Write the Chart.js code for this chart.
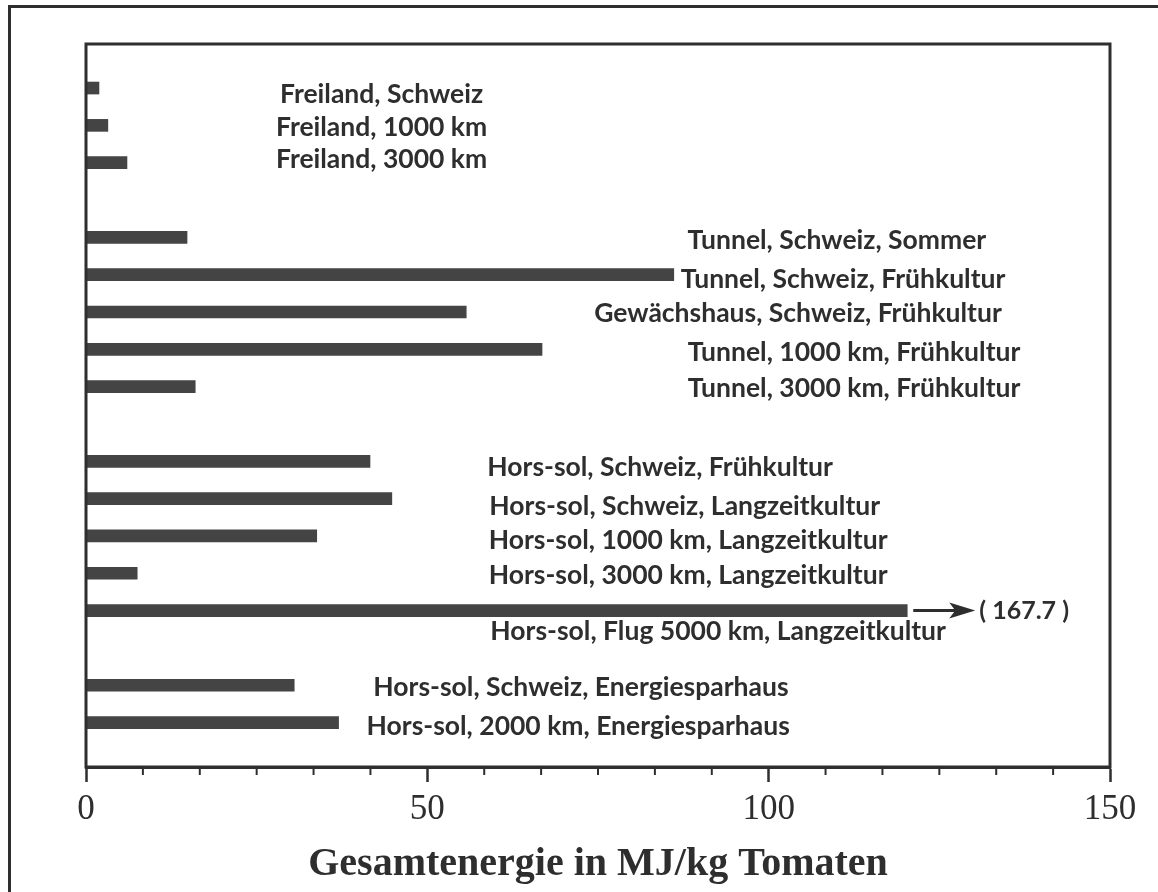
<!DOCTYPE html>
<html>
<head>
<meta charset="utf-8">
<script src="https://cdn.jsdelivr.net/npm/chart.js@4.4.1/dist/chart.umd.min.js"></script>
<style>
  html, body { margin: 0; padding: 0; background: #fff; }
  #wrap { width: 1158px; height: 892px; }
</style>
</head>
<body>
<div id="wrap"><canvas id="energyChart"></canvas></div>
<script>
// Rows from top to bottom, "" = empty row between the groups
const categories = [
    "Freiland, Schweiz", "Freiland, 1000 km", "Freiland, 3000 km",
    "",
    "Tunnel, Schweiz, Sommer", "Tunnel, Schweiz, Frühkultur", "Gewächshaus, Schweiz, Frühkultur",
    "Tunnel, 1000 km, Frühkultur", "Tunnel, 3000 km, Frühkultur",
    "",
    "Hors-sol, Schweiz, Frühkultur", "Hors-sol, Schweiz, Langzeitkultur", "Hors-sol, 1000 km, Langzeitkultur",
    "Hors-sol, 3000 km, Langzeitkultur", "Hors-sol, Flug 5000 km, Langzeitkultur",
    "",
    "Hors-sol, Schweiz, Energiesparhaus", "Hors-sol, 2000 km, Energiesparhaus"
];

// Gesamtenergie in MJ/kg Tomaten (bar length as drawn, the flight bar is cut off)
const energy = [
    1.9, 3.2, 6.0,
    null,
    14.8, 86.1, 55.7, 66.8, 16.0,
    null,
    41.6, 44.8, 33.8, 7.5, 120.3,
    null,
    30.5, 37.0
];

// real value of the cut-off bar, written after the arrow
const cutOffNotes = [
    null, null, null, null, null, null, null, null, null, null,
    null, null, null, null, "( 167.7 )", null, null, null
];

const xTicks = [0, 50, 100, 150];
const xTitle = "Gesamtenergie in MJ/kg Tomaten";

// where each row label sits (centre, in axis units) and its nudge in px
const labelCenter = [43.3, 43.3, 43.3, null, 110.0, 110.9, 104.3, 112.5, 112.5, null,
                     84.1, 87.7, 88.2, 88.2, 92.6, null, 72.5, 72.1];
const labelShift = [6, 2, -3, 0, 3, 5, 1.5, 3, 1.5, 0, 6.5, 8, 4, 2, 21, 0, 2, 3.5];

const ink = "#2e2e2e";
const barInk = "#444";

// paper border + plot frame
const framePlugin = {
    id: "frame",
    beforeDraw(chart) {
        const c = chart.ctx;
        c.save();
        c.fillStyle = "#fff";
        c.fillRect(0, 0, chart.width, chart.height);
        c.strokeStyle = ink;
        c.lineWidth = 3;
        c.beginPath();
        c.moveTo(9.5, chart.height + 5);
        c.lineTo(9.5, 6.5);
        c.lineTo(chart.width + 5, 6.5);
        c.stroke();
        c.restore();
    },
    afterDraw(chart) {
        const a = chart.chartArea;
        const c = chart.ctx;
        c.save();
        c.strokeStyle = ink;
        c.lineWidth = 3;
        c.strokeRect(a.left, a.top, a.right - a.left, a.bottom - a.top);
        // small ticks between the labelled ones
        const x = chart.scales.x;
        c.lineWidth = 2;
        for (let k = 1; k < 18; k++) {
            if (k % 6 === 0) continue;
            const px = x.getPixelForValue(k * 25 / 3);
            c.beginPath();
            c.moveTo(px, a.bottom);
            c.lineTo(px, a.bottom + 8);
            c.stroke();
        }
        c.restore();
    }
};

// row labels, arrow and note
const rowLabelPlugin = {
    id: "rowLabels",
    afterDatasetsDraw(chart) {
        const c = chart.ctx;
        const x = chart.scales.x;
        const y = chart.scales.y;
        c.save();
        c.fillStyle = ink;
        c.textBaseline = "middle";
        c.textAlign = "center";
        c.font = "bold 26.5px Lato";
        categories.forEach((name, i) => {
            if (!name) return;
            c.fillText(name, x.getPixelForValue(labelCenter[i]), y.getPixelForValue(i) + labelShift[i]);
        });
        categories.forEach((name, i) => {
            if (!cutOffNotes[i]) return;
            const py = y.getPixelForValue(i);
            const x0 = x.getPixelForValue(energy[i]) + 6;
            c.strokeStyle = ink;
            c.lineWidth = 3;
            c.beginPath();
            c.moveTo(x0, py);
            c.lineTo(x0 + 42, py);
            c.stroke();
            c.beginPath();
            c.moveTo(x0 + 62, py);
            c.lineTo(x0 + 36, py - 8);
            c.lineTo(x0 + 42, py);
            c.lineTo(x0 + 36, py + 8);
            c.closePath();
            c.fill();
            c.textAlign = "left";
            c.font = "bold 25px Lato";
            c.fillText(cutOffNotes[i], x0 + 66, py);
        });
        c.restore();
    }
};

const points = [];
energy.forEach((v, i) => {
    if (v !== null) points.push({ x: v, y: i });
});

new Chart(document.getElementById("energyChart"), {
    type: "bar",
    data: {
        datasets: [{
            data: points,
            backgroundColor: barInk,
            borderWidth: 0,
            barThickness: 12
        }]
    },
    options: {
        indexAxis: "y",
        responsive: true,
        maintainAspectRatio: false,
        animation: false,
        layout: { padding: { left: 86, top: 44, right: 48, bottom: 3 } },
        plugins: { legend: { display: false }, tooltip: { enabled: false } },
        scales: {
            y: {
                type: "linear",
                display: false,
                reverse: true,
                offset: false,
                min: -1.18,
                max: 18.19
            },
            x: {
                type: "linear",
                min: 0,
                max: 150,
                afterBuildTicks: (axis) => { axis.ticks = xTicks.map(v => ({ value: v })); },
                grid: { drawOnChartArea: false, tickLength: 15, tickWidth: 2.5, tickColor: ink },
                border: { display: true, color: ink, width: 3 },
                ticks: {
                    color: ink,
                    padding: 7,
                    maxRotation: 0,
                    font: { family: "Liberation Serif", size: 35 }
                },
                title: {
                    display: true,
                    text: xTitle,
                    color: ink,
                    padding: { top: 7, bottom: 4 },
                    font: { family: "Liberation Serif", size: 40, weight: "bold", lineHeight: 1 }
                }
            }
        }
    },
    plugins: [framePlugin, rowLabelPlugin]
});
</script>
</body>
</html>
